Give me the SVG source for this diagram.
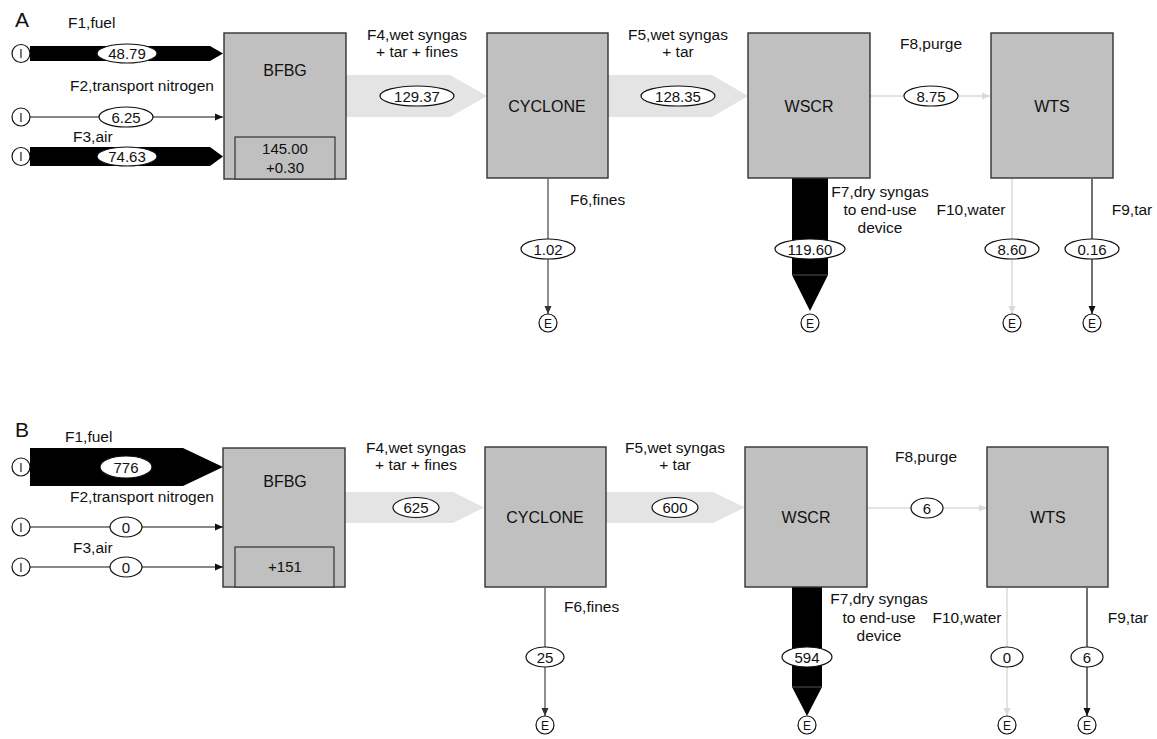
<svg xmlns="http://www.w3.org/2000/svg" width="1157" height="739" viewBox="0 0 1157 739">
<defs>
<style>
text{font-family:"Liberation Sans",Arial,sans-serif;fill:#111}
.lbl{font-size:15.5px}
.mid{text-anchor:middle}
.box{fill:#c0c0c0;stroke:#333;stroke-width:1.4}
.inner{fill:#c0c0c0;stroke:#333;stroke-width:1.2}
.bname{font-size:16px;text-anchor:middle}
.val{fill:#fff;stroke:#111;stroke-width:1.2}
.vt{font-size:15px;text-anchor:middle}
.term{fill:#fff;stroke:#111;stroke-width:1.2}
.tt{font-size:12px;text-anchor:middle}
.blk{fill:#000}
.lgt{fill:#e4e4e4}
.ln{stroke:#111;stroke-width:1.2;fill:none}
.lnG{stroke:#6a6a6a;stroke-width:1.5;fill:none}
.lnL{stroke:#dadada;stroke-width:1.5;fill:none}
</style>
<marker id="ab" markerWidth="8" markerHeight="8" refX="8" refY="4" orient="auto" markerUnits="userSpaceOnUse"><path d="M0,0.5 L8,4 L0,7.5 Z" fill="#111"/></marker>
<marker id="ag" markerWidth="8" markerHeight="8" refX="8" refY="4" orient="auto" markerUnits="userSpaceOnUse"><path d="M0,0.5 L8,4 L0,7.5 Z" fill="#333"/></marker>
<marker id="al" markerWidth="8" markerHeight="8" refX="8" refY="4" orient="auto" markerUnits="userSpaceOnUse"><path d="M0,0.5 L8,4 L0,7.5 Z" fill="#dadada"/></marker>
</defs>
<rect width="1157" height="739" fill="#fff"/>

<!-- ===== Panel A ===== -->
<text x="15" y="27" style="font-size:21px">A</text>
<g id="connectorsA">
  <polygon class="blk" points="30,46 210,46 223,53.5 210,61 30,61"/>
  <line class="ln" x1="30" y1="117" x2="223" y2="117" marker-end="url(#ab)"/>
  <polygon class="blk" points="30,147 210,147 223,156.5 210,166 30,166"/>
  <polygon class="lgt" points="346,75 450,75 487,96 450,117 346,117"/>
  <polygon class="lgt" points="608,75 712,75 748,96 712,117 608,117"/>
  <line class="lnG" x1="548" y1="179" x2="548" y2="314" marker-end="url(#ag)"/>
  <polygon class="blk" points="792,178 828,178 828,275 810,311 792,275"/>
  <line x1="792" y1="275" x2="828" y2="275" stroke="#555" stroke-width="1"/>
  <line class="lnL" x1="870" y1="96" x2="990" y2="96" marker-end="url(#al)"/>
  <line class="lnL" x1="1012" y1="179" x2="1012" y2="314" marker-end="url(#al)"/>
  <line class="ln" x1="1092" y1="179" x2="1092" y2="314" marker-end="url(#ab)"/>
</g>
<g id="labelsA">
  <text class="lbl" x="68" y="28">F1,fuel</text>
  <text class="lbl" x="70" y="91">F2,transport nitrogen</text>
  <text class="lbl" x="73" y="142">F3,air</text>
  <text class="lbl mid" x="417" y="40">F4,wet syngas</text>
  <text class="lbl mid" x="417" y="57">+ tar + fines</text>
  <text class="lbl mid" x="678" y="40">F5,wet syngas</text>
  <text class="lbl mid" x="678" y="57">+ tar</text>
  <text class="lbl" x="570" y="205">F6,fines</text>
  <text class="lbl mid" x="880" y="197">F7,dry syngas</text>
  <text class="lbl mid" x="880" y="215">to end-use</text>
  <text class="lbl mid" x="880" y="233">device</text>
  <text class="lbl mid" x="931" y="49">F8,purge</text>
  <text class="lbl mid" x="971" y="215">F10,water</text>
  <text class="lbl mid" x="1132" y="215">F9,tar</text>
</g>
<g id="valuesA">
  <ellipse class="val" cx="127" cy="53.5" rx="30" ry="9.5"/><text class="vt" x="127" y="59">48.79</text>
  <ellipse class="val" cx="126" cy="117" rx="27" ry="10"/><text class="vt" x="126" y="122.5">6.25</text>
  <ellipse class="val" cx="127" cy="156.5" rx="30" ry="9.5"/><text class="vt" x="127" y="162">74.63</text>
  <ellipse class="val" cx="417" cy="96" rx="37" ry="10"/><text class="vt" x="417" y="101.5">129.37</text>
  <ellipse class="val" cx="678" cy="96" rx="37" ry="10"/><text class="vt" x="678" y="101.5">128.35</text>
  <ellipse class="val" cx="548" cy="249" rx="27" ry="10"/><text class="vt" x="548" y="254.5">1.02</text>
  <ellipse class="val" cx="810" cy="249" rx="35" ry="10"/><text class="vt" x="810" y="254.5">119.60</text>
  <ellipse class="val" cx="931" cy="96" rx="27" ry="10"/><text class="vt" x="931" y="101.5">8.75</text>
  <ellipse class="val" cx="1012" cy="249" rx="27" ry="10"/><text class="vt" x="1012" y="254.5">8.60</text>
  <ellipse class="val" cx="1092" cy="249" rx="27" ry="10"/><text class="vt" x="1092" y="254.5">0.16</text>
</g>
<g id="A-I1"><circle class="term" cx="21" cy="53.5" r="9"/><text class="tt" x="21" y="58">I</text></g>
<g id="A-I2"><circle class="term" cx="21" cy="117" r="9"/><text class="tt" x="21" y="121.5">I</text></g>
<g id="A-I3"><circle class="term" cx="21" cy="156.5" r="9"/><text class="tt" x="21" y="161">I</text></g>
<g id="A-BFBG"><rect class="box" x="224" y="33" width="122" height="146"/><text class="bname" x="285" y="76">BFBG</text>
  <rect class="inner" x="235" y="137" width="100" height="42"/><text class="vt" x="285" y="154">145.00</text><text class="vt" x="285" y="173">+0.30</text></g>
<g id="A-CYCLONE"><rect class="box" x="487" y="33" width="121" height="145"/><text class="bname" x="547" y="112">CYCLONE</text></g>
<g id="A-WSCR"><rect class="box" x="748" y="33" width="122" height="145"/><text class="bname" x="809" y="112">WSCR</text></g>
<g id="A-WTS"><rect class="box" x="991" y="33" width="122" height="145"/><text class="bname" x="1052" y="112">WTS</text></g>
<g id="A-E6"><circle class="term" cx="548" cy="323" r="9"/><text class="tt" x="548" y="327.5">E</text></g>
<g id="A-E7"><circle class="term" cx="810" cy="323" r="9"/><text class="tt" x="810" y="327.5">E</text></g>
<g id="A-E10"><circle class="term" cx="1012" cy="323" r="9"/><text class="tt" x="1012" y="327.5">E</text></g>
<g id="A-E9"><circle class="term" cx="1092" cy="323" r="9"/><text class="tt" x="1092" y="327.5">E</text></g>

<!-- ===== Panel B ===== -->
<text x="15" y="437" style="font-size:21px">B</text>
<g id="connectorsB">
  <polygon class="blk" points="30,448 183,448 223,467 183,486 30,486"/>
  <line class="ln" x1="30" y1="527" x2="223" y2="527" marker-end="url(#ab)"/>
  <line class="ln" x1="30" y1="567" x2="223" y2="567" marker-end="url(#ab)"/>
  <polygon class="lgt" points="345,492 453,492 484,507.5 453,523 345,523"/>
  <polygon class="lgt" points="606,492 713,492 745,507.5 713,523 606,523"/>
  <line class="lnG" x1="545" y1="588" x2="545" y2="716" marker-end="url(#ag)"/>
  <polygon class="blk" points="792,587 822,587 822,687 807,716 792,687"/>
  <line x1="792" y1="687" x2="822" y2="687" stroke="#555" stroke-width="1"/>
  <line class="lnL" x1="867" y1="508" x2="987" y2="508" marker-end="url(#al)"/>
  <line class="lnL" x1="1007" y1="588" x2="1007" y2="716" marker-end="url(#al)"/>
  <line class="ln" x1="1087" y1="588" x2="1087" y2="716" marker-end="url(#ab)"/>
</g>
<g id="labelsB">
  <text class="lbl" x="65" y="442">F1,fuel</text>
  <text class="lbl" x="70" y="502">F2,transport nitrogen</text>
  <text class="lbl" x="73" y="553">F3,air</text>
  <text class="lbl mid" x="416" y="453">F4,wet syngas</text>
  <text class="lbl mid" x="416" y="470">+ tar + fines</text>
  <text class="lbl mid" x="675" y="453">F5,wet syngas</text>
  <text class="lbl mid" x="675" y="470">+ tar</text>
  <text class="lbl" x="564" y="612">F6,fines</text>
  <text class="lbl mid" x="879" y="604">F7,dry syngas</text>
  <text class="lbl mid" x="879" y="623">to end-use</text>
  <text class="lbl mid" x="879" y="641">device</text>
  <text class="lbl mid" x="926" y="462">F8,purge</text>
  <text class="lbl mid" x="967" y="623">F10,water</text>
  <text class="lbl mid" x="1128" y="623">F9,tar</text>
</g>
<g id="valuesB">
  <ellipse class="val" cx="126" cy="467" rx="26" ry="11" stroke="none"/><text class="vt" x="126" y="472.5">776</text>
  <ellipse class="val" cx="126" cy="527" rx="16" ry="10"/><text class="vt" x="126" y="532.5">0</text>
  <ellipse class="val" cx="126" cy="567" rx="16" ry="10"/><text class="vt" x="126" y="572.5">0</text>
  <ellipse class="val" cx="416" cy="507.5" rx="23" ry="10"/><text class="vt" x="416" y="513">625</text>
  <ellipse class="val" cx="675" cy="507.5" rx="23" ry="10"/><text class="vt" x="675" y="513">600</text>
  <ellipse class="val" cx="545" cy="657" rx="19" ry="10"/><text class="vt" x="545" y="662.5">25</text>
  <ellipse class="val" cx="807" cy="657" rx="25" ry="10"/><text class="vt" x="807" y="662.5">594</text>
  <ellipse class="val" cx="927" cy="508" rx="16" ry="10"/><text class="vt" x="927" y="513.5">6</text>
  <ellipse class="val" cx="1007" cy="657" rx="16" ry="10"/><text class="vt" x="1007" y="662.5">0</text>
  <ellipse class="val" cx="1087" cy="657" rx="16" ry="10"/><text class="vt" x="1087" y="662.5">6</text>
</g>
<g id="B-I1"><circle class="term" cx="21" cy="467" r="9"/><text class="tt" x="21" y="471.5">I</text></g>
<g id="B-I2"><circle class="term" cx="21" cy="527" r="9"/><text class="tt" x="21" y="531.5">I</text></g>
<g id="B-I3"><circle class="term" cx="21" cy="567" r="9"/><text class="tt" x="21" y="571.5">I</text></g>
<g id="B-BFBG"><rect class="box" x="223" y="448" width="122" height="139"/><text class="bname" x="285" y="487">BFBG</text>
  <rect class="inner" x="235" y="547" width="99" height="40"/><text class="vt" x="285" y="572">+151</text></g>
<g id="B-CYCLONE"><rect class="box" x="485" y="447" width="121" height="140"/><text class="bname" x="545" y="523">CYCLONE</text></g>
<g id="B-WSCR"><rect class="box" x="745" y="447" width="122" height="140"/><text class="bname" x="806" y="523">WSCR</text></g>
<g id="B-WTS"><rect class="box" x="987" y="447" width="121" height="140"/><text class="bname" x="1048" y="523">WTS</text></g>
<g id="B-E6"><circle class="term" cx="545" cy="725" r="9"/><text class="tt" x="545" y="729.5">E</text></g>
<g id="B-E7"><circle class="term" cx="807" cy="725" r="9"/><text class="tt" x="807" y="729.5">E</text></g>
<g id="B-E10"><circle class="term" cx="1007" cy="725" r="9"/><text class="tt" x="1007" y="729.5">E</text></g>
<g id="B-E9"><circle class="term" cx="1087" cy="725" r="9"/><text class="tt" x="1087" y="729.5">E</text></g>
</svg>
